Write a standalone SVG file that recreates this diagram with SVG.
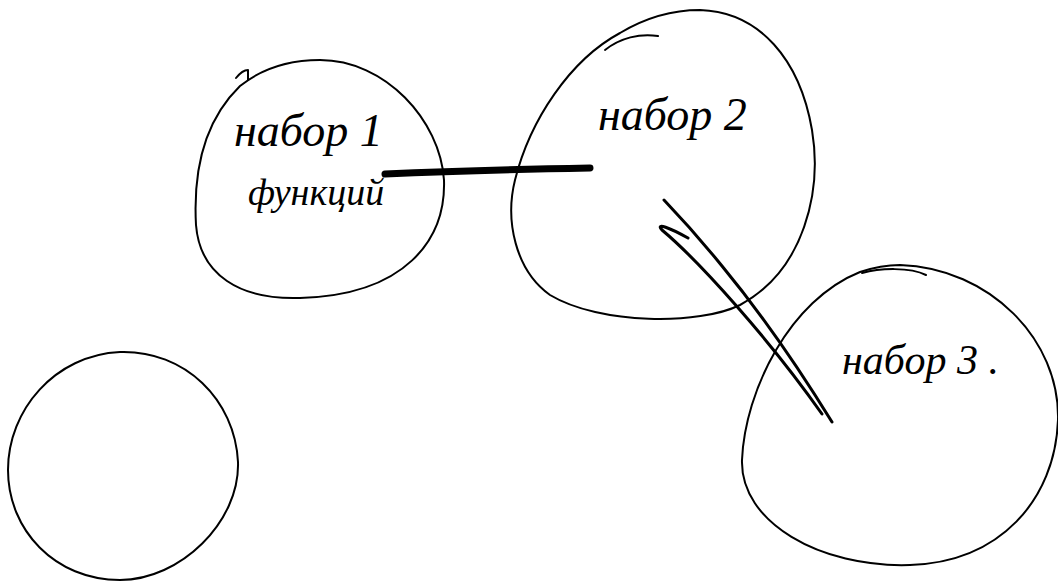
<svg xmlns="http://www.w3.org/2000/svg" width="1058" height="586" viewBox="0 0 1058 586">
<style>
.blob{fill:none;stroke:#000;stroke-width:2;stroke-linecap:round;stroke-linejoin:round}
.lbl{font-family:"Liberation Serif","DejaVu Serif",serif;font-style:italic;font-size:46px;fill:#000}
.con{fill:none;stroke:#000;stroke-linecap:round}
</style>
<rect width="1058" height="586" fill="#fff"/>
<g id="connectors">
<path class="con" stroke-width="7" d="M 385,174 C 450,171 530,169 590,168"/>
<path class="con" stroke-width="3" d="M 664,200 C 685,222 705,245 722,266 C 760,312 800,370 832,422"/>
<path class="con" stroke-width="3" d="M 688,238 C 670,228 655,222 662,230 C 700,262 770,340 822,414"/>
</g>
<g id="node1">
<path class="blob" d="M 320,60 C 385,60 440,120 444,180 C 446,240 405,295 300,298 C 240,300 200,275 196,225 C 193,170 205,120 240,86 C 265,66 295,60 320,60 Z"/>
<path class="blob" d="M 236,78 C 240,73 244,70 248,70 L 248,80"/>
<text class="lbl" x="234" y="146">набор 1</text>
<text class="lbl" x="248" y="205" style="font-size:38px">функций</text>
</g>
<g id="node2">
<path class="blob" d="M 700,10 C 760,12 800,60 812,130 C 822,190 805,270 740,305 C 700,325 600,325 550,295 C 515,270 505,220 515,180 C 530,120 570,60 620,33 C 645,18 672,10 700,10 Z"/>
<path class="blob" d="M 605,50 C 620,38 640,33 658,36"/>
<text class="lbl" x="598" y="130">набор 2</text>
</g>
<g id="node3">
<path class="blob" d="M 900,265 C 990,268 1060,340 1058,420 C 1055,500 1000,562 910,565 C 820,568 740,522 742,460 C 745,390 790,300 860,272 C 875,267 888,265 900,265 Z"/>
<path class="blob" d="M 862,273 C 880,268 910,267 926,275"/>
<text class="lbl" x="842" y="374" style="font-size:42px">набор 3 .</text>
</g>
<g id="node4">
<path class="blob" d="M 120,352 C 185,350 235,400 238,462 C 240,522 180,580 120,580 C 55,580 8,530 8,470 C 8,410 55,355 120,352 Z"/>
</g>
</svg>
